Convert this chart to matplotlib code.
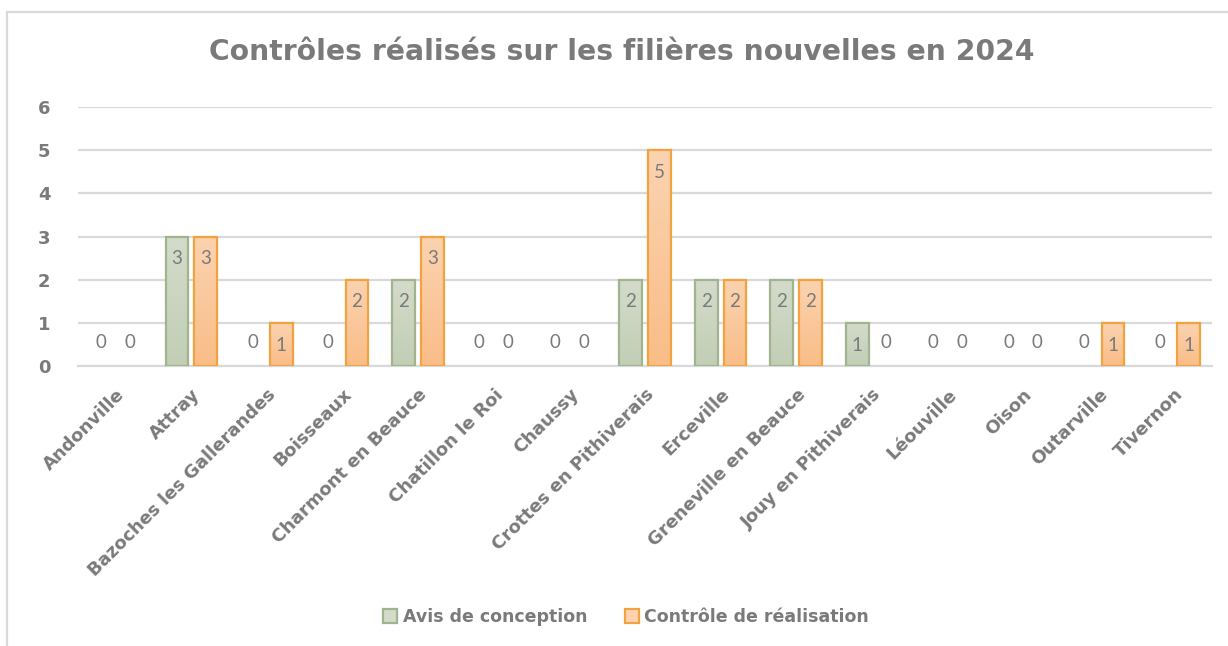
import numpy as np
import matplotlib.pyplot as plt
from matplotlib.patches import Rectangle
from matplotlib.colors import LinearSegmentedColormap

# données
communes = ["Andonville", "Attray", "Bazoches les Gallerandes", "Boisseaux",
            "Charmont en Beauce", "Chatillon le Roi", "Chaussy", "Crottes en Pithiverais",
            "Erceville", "Greneville en Beauce", "Jouy en Pithiverais", "Léouville",
            "Oison", "Outarville", "Tivernon"]
avis_conception = [0, 3, 0, 0, 2, 0, 0, 2, 2, 2, 1, 0, 0, 0, 0]
controle_realisation = [0, 3, 1, 2, 3, 0, 0, 5, 2, 2, 0, 0, 0, 1, 1]
yticks = [0, 1, 2, 3, 4, 5, 6]

grey = '#7a7a7a'
bold_font = ['DejaVu Sans']
plt.rcParams['font.family'] = ['Lato', 'DejaVu Sans']

fig = plt.figure(figsize=(12.28, 6.46), dpi=100)
ax = fig.add_axes([78 / 1228, 1 - 366 / 646, (1212 - 78) / 1228, (366 - 107) / 646])

# cadre du graphique
fig.patches.append(Rectangle((7 / 1228, -0.05), 1.1, 1 - 12 / 646 + 0.05, transform=fig.transFigure,
                             fill=False, edgecolor='#d9d9d9', linewidth=1.6))

x = np.arange(len(communes))
w = 0.3
gap = 0.04

series = [
    (avis_conception, x - w / 2 - gap, ['#d3dccb', '#c2ceb5'], '#a1b48f', "Avis de conception"),
    (controle_realisation, x + w / 2 + gap, ['#fbd3b0', '#f9bd88'], '#f2a23f', "Contrôle de réalisation"),
]

grad = np.linspace(0, 1, 100).reshape(-1, 1)
handles = []
for vals, pos, cols, edge, lab in series:
    cmap = LinearSegmentedColormap.from_list('g', cols)
    bars = ax.bar(pos, vals, w, color='none', edgecolor=edge, linewidth=1.6, zorder=3)
    for b, v in zip(bars, vals):
        if v > 0:
            im = ax.imshow(grad, cmap=cmap, aspect='auto', zorder=2.9,
                           extent=[b.get_x(), b.get_x() + w, 0, v], origin='upper')
            im.set_clip_path(b)
        else:
            b.set_visible(False)
        off = -16 if v > 0 else 17
        ax.annotate(str(v), (b.get_x() + w / 2, v), xytext=(0, off), textcoords='offset points',
                    ha='center', va='center', fontsize=13.5, color=grey, zorder=4)
    handles.append(Rectangle((0, 0), 1, 1, facecolor=cols[0], edgecolor=edge, linewidth=1.6, label=lab))

ax.set_xlim(-0.5, len(communes) - 0.5)
ax.set_ylim(0, 6)
ax.set_yticks(yticks)
ax.grid(axis='y', color='#d9d9d9', linewidth=1.6, zorder=0)
ax.set_axisbelow(True)
for s in ['top', 'right', 'left']:
    ax.spines[s].set_visible(False)
ax.spines['bottom'].set_color('#d9d9d9')
ax.spines['bottom'].set_linewidth(1.6)
ax.tick_params(length=0)
ax.tick_params(axis='y', pad=20)
ax.tick_params(axis='x', pad=14)
ax.set_xticks(x)
ax.set_xticklabels(communes, rotation=45, ha='right', rotation_mode='anchor')
for t in ax.get_xticklabels() + ax.get_yticklabels():
    t.set_fontsize(13)
    t.set_fontweight('bold')
    t.set_family(bold_font)
    t.set_color(grey)

fig.text(0.506, 1 - 52 / 646, "Contrôles réalisés sur les filières nouvelles en 2024",
         ha='center', va='center', fontsize=20.3, fontweight='bold', color=grey, family=bold_font)

leg = fig.legend(handles=handles, loc='center', bbox_to_anchor=(0.51, 1 - 617 / 646), ncol=2,
                 frameon=False, prop={'size': 12.5, 'weight': 'bold', 'family': bold_font},
                 handlelength=0.8, handleheight=0.8, handletextpad=0.3, columnspacing=2.2)
for t in leg.get_texts():
    t.set_color(grey)

fig.savefig('out.png', dpi=100)
